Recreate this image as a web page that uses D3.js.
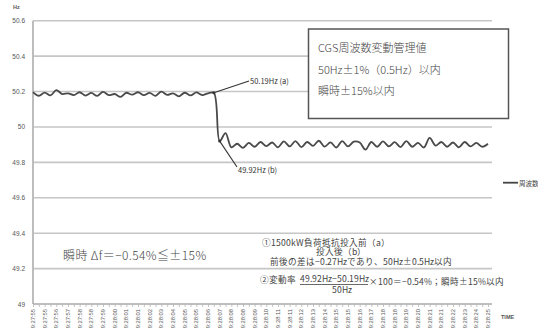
<!DOCTYPE html>
<html>
<head>
<meta charset="utf-8">
<script src="https://cdn.jsdelivr.net/npm/d3@7"></script>
<style>
  body { margin: 0; background: #fff; }
  svg { display: block; }
  /* local CJK face with a compact line box for the stacked notes */
  @font-face {
    font-family: "NoteJP";
    src: local("Noto Sans CJK JP Regular"), local("NotoSansCJKjp-Regular"), local("Noto Sans CJK JP");
    ascent-override: 88%;
    descent-override: 12%;
    line-gap-override: 0%;
  }
</style>
</head>
<body>
<script>
// Time labels shown under the axis (one every second sample)
const timeLabels = [
  "9:27:55","9:27:55","9:27:56","9:27:57","9:27:58","9:27:58","9:27:59","9:28:00",
  "9:28:01","9:28:01","9:28:02","9:28:03","9:28:04","9:28:05","9:28:05","9:28:06",
  "9:28:07","9:28:08","9:28:08","9:28:09","9:28:10","9:28:11","9:28:11","9:28:12",
  "9:28:13","9:28:14","9:28:15","9:28:15","9:28:16","9:28:17","9:28:18","9:28:18",
  "9:28:19","9:28:20","9:28:21","9:28:21","9:28:22","9:28:23","9:28:24","9:28:25"
];

// Measured frequency [Hz]
const freqValues = [
  50.197, 50.176, 50.194, 50.178, 50.208, 50.186, 50.190, 50.180, 50.196, 50.177,
  50.192, 50.175, 50.198, 50.180, 50.186, 50.170, 50.193, 50.182, 50.196, 50.180,
  50.192, 50.176, 50.199, 50.181, 50.190, 50.173, 50.193, 50.178, 50.195, 50.180,
  50.190, 50.193, 49.920, 49.965, 49.885, 49.905, 49.882, 49.910, 49.888, 49.915,
  49.892, 49.912, 49.885, 49.918, 49.890, 49.920, 49.886, 49.915, 49.893, 49.922,
  49.889, 49.913, 49.884, 49.920, 49.890, 49.917, 49.912, 49.872, 49.915, 49.888,
  49.918, 49.890, 49.914, 49.886, 49.920, 49.888, 49.910, 49.884, 49.938, 49.895,
  49.915, 49.888, 49.912, 49.885, 49.915, 49.890, 49.910, 49.888, 49.905
];

const yTicks = [49, 49.2, 49.4, 49.6, 49.8, 50, 50.2, 50.4, 50.6];
const yTickLabels = ["49", "49.2", "49.4", "49.6", "49.8", "50", "50.2", "50.4", "50.6"];

// Marked points: before (a) and after (b) the load is switched in
const markA = { index: 31, text: "50.19Hz (a)" };
const markB = { index: 32, text: "49.92Hz (b)" };

const W = 538, H = 336;
const plotLeft = 33, plotRight = 492, plotTop = 20.7, plotBottom = 304;
const jp = "'Noto Sans CJK JP', 'Noto Sans', sans-serif";
const noteFont = "NoteJP, 'Noto Sans CJK JP', sans-serif";
const latin = "'Liberation Sans', Arial, sans-serif";

const svg = d3.select("body").append("svg").attr("width", W).attr("height", H);

const x = d3.scalePoint()
  .domain(freqValues.map((d, i) => i))
  .range([plotLeft, 488]);
const y = d3.scaleLinear().domain([49, 50.6]).range([plotBottom, plotTop]);

// horizontal grid
svg.append("g").selectAll("line").data(yTicks.filter(v => v > 49)).join("line")
  .attr("x1", plotLeft).attr("x2", plotRight)
  .attr("y1", d => y(d)).attr("y2", d => y(d))
  .attr("stroke", "#c6c6c6").attr("stroke-width", 1.6);

// y axis labels
svg.append("g").selectAll("text").data(yTicks).join("text")
  .attr("x", 25).attr("y", d => y(d) + 2.5)
  .attr("text-anchor", "end")
  .attr("font-family", latin).attr("font-size", 6.5)
  .attr("fill", "#555")
  .text((d, i) => yTickLabels[i]);

svg.append("text").attr("x", 13).attr("y", 9)
  .attr("font-family", latin).attr("font-size", 5.5).attr("font-weight", "bold")
  .attr("fill", "#555").text("Hz");

// left axis line
svg.append("line").attr("x1", plotLeft).attr("x2", plotLeft).attr("y1", plotTop).attr("y2", plotBottom)
  .attr("stroke", "#bdbdbd").attr("stroke-width", 2);

// bottom axis with dense ticks
const xAxis = d3.axisBottom(x).tickSize(3).tickFormat("");
const gx = svg.append("g").attr("transform", `translate(0,${plotBottom})`).call(xAxis);
gx.select(".domain").attr("stroke", "#aaa").attr("stroke-width", 1.5)
  .attr("d", `M${plotLeft},0H${plotRight}`);
gx.selectAll(".tick line").attr("stroke", "#b5b5b5").attr("stroke-width", 0.8);

// rotated time labels
svg.append("g").selectAll("text").data(timeLabels).join("text")
  .attr("transform", (d, i) => `translate(${x(i * 2) + 2},309) rotate(-90)`)
  .attr("text-anchor", "end")
  .attr("font-family", latin).attr("font-size", 5.8)
  .attr("fill", "#555")
  .text(d => d);

svg.append("text").attr("x", 501).attr("y", 319)
  .attr("font-family", latin).attr("font-size", 5.5).attr("font-weight", "bold")
  .attr("fill", "#555").text("TIME");

// frequency line
const line = d3.line()
  .x((d, i) => x(i))
  .y(d => y(d))
  .curve(d3.curveCatmullRom.alpha(0.5));
svg.append("path").datum(freqValues)
  .attr("d", line)
  .attr("fill", "none").attr("stroke", "#4a4a4a").attr("stroke-width", 1.8)
  .attr("stroke-linejoin", "round");

// callouts for (a) and (b)
const ax = x(markA.index), ay = y(freqValues[markA.index]);
svg.append("line").attr("x1", ax).attr("y1", ay).attr("x2", 249).attr("y2", 81)
  .attr("stroke", "#333").attr("stroke-width", 1.1);
svg.append("circle").attr("cx", ax).attr("cy", ay).attr("r", 1.5).attr("fill", "#333");
svg.append("text").attr("x", 250).attr("y", 83.5)
  .attr("font-family", jp).attr("font-size", 7.5).attr("fill", "#333")
  .text(markA.text);

const bx = x(markB.index), by = y(freqValues[markB.index]);
svg.append("line").attr("x1", bx).attr("y1", by).attr("x2", 237).attr("y2", 167)
  .attr("stroke", "#333").attr("stroke-width", 1.1);
svg.append("circle").attr("cx", bx).attr("cy", by).attr("r", 1.5).attr("fill", "#333");
svg.append("text").attr("x", 238).attr("y", 173)
  .attr("font-family", jp).attr("font-size", 7.5).attr("fill", "#333")
  .text(markB.text);

// management value box
svg.append("rect").attr("x", 308.5).attr("y", 29).attr("width", 200).attr("height", 89.5)
  .attr("fill", "#fff").attr("stroke", "#555").attr("stroke-width", 1.5);
const boxLines = ["CGS周波数変動管理値", "50Hz±1%（0.5Hz）以内", "瞬時±15%以内"];
svg.append("g").selectAll("text").data(boxLines).join("text")
  .attr("x", 318).attr("y", (d, i) => 52 + i * 21.7)
  .attr("font-family", jp).attr("font-size", 11).attr("font-weight", 300)
  .attr("fill", "#444")
  .text(d => d);

// legend
svg.append("line").attr("x1", 503).attr("x2", 518).attr("y1", 182.7).attr("y2", 182.7)
  .attr("stroke", "#444").attr("stroke-width", 1.8);
svg.append("text").attr("x", 519).attr("y", 185.5)
  .attr("font-family", jp).attr("font-size", 6.5).attr("fill", "#444").text("周波数");

// instantaneous deviation
svg.append("text").attr("x", 63).attr("y", 259.5)
  .attr("font-family", jp).attr("font-size", 12).attr("font-weight", 300)
  .attr("letter-spacing", 0.4)
  .attr("fill", "#444").text("瞬時 Δf＝−0.54%≦±15%");

// notes
const note = svg.append("g").attr("font-family", noteFont).attr("font-size", 8.6).attr("fill", "#444");
note.append("text").attr("x", 262).attr("y", 246).text("①1500kW負荷抵抗投入前（a）");
note.append("text").attr("x", 366).attr("y", 255).attr("text-anchor", "end").text("投入後（b）");
note.append("text").attr("x", 270).attr("y", 264.5).text("前後の差は−0.27Hzであり、50Hz±0.5Hz以内");
note.append("text").attr("x", 260).attr("y", 283).text("②変動率");
note.append("text").attr("x", 300).attr("y", 282).text("49.92Hz−50.19Hz");
note.append("line").attr("x1", 300).attr("x2", 368).attr("y1", 284.5).attr("y2", 284.5)
  .attr("stroke", "#444").attr("stroke-width", 0.8);
note.append("text").attr("x", 342).attr("y", 293).attr("text-anchor", "middle").text("50Hz");
note.append("text").attr("x", 369).attr("y", 285).text("×100＝−0.54%；瞬時±15%以内");
</script>
</body>
</html>
